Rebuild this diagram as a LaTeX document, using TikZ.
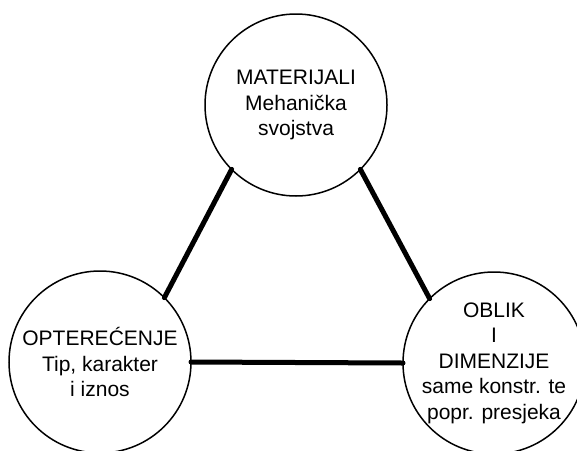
\documentclass[tikz,border=0pt]{standalone}
\usepackage{fontspec}
\setmainfont{Liberation Sans}
\usepackage{tikz}
\tikzset{
  % Krugovi
  krug/.style={circle,draw=black,line width=1.5pt,minimum size=182pt,inner sep=0pt,outer sep=0pt},
  krug tekst/.style={align=center,font=\fontsize{21}{25.5}\selectfont,inner sep=0pt},
  % Veze
  veza/.style={line width=5pt,line cap=round}
}
\begin{document}
\begin{tikzpicture}[x=1pt,y=-1pt]
  \clip (0,0) rectangle (577,450);
  % krugovi
  \node[krug] (mat) at (296,105) {};
  \node[krug] (opt) at (100,362) {};
  \node[krug] (obl) at (494,363) {};
  % tekst
  \node[krug tekst] (mat txt) at (mat) {MATERIJALI\\Mehanička\\svojstva};
  \node[krug tekst] (opt txt) at (opt) {OPTEREĆENJE\\Tip, karakter\\i iznos};
  \node[krug tekst] (obl txt) at (obl) {OBLIK\\I\\DIMENZIJE\\same konstr. te\\popr. presjeka};
  % veze
  \draw[veza] (mat.south west) -- (opt.north east);
  \draw[veza] (mat.south east) -- (obl.north west);
  \draw[veza] (opt.east) -- (obl.west);
\end{tikzpicture}
\end{document}
